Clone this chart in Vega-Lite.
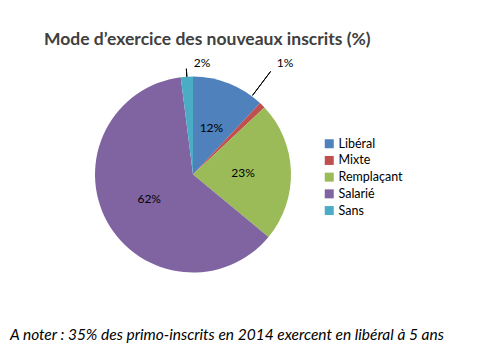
{
  "$schema": "https://vega.github.io/schema/vega-lite/v6.json",
  "padding": {"left": 0, "top": 15.5, "right": 0, "bottom": 0},
  "background": "white",
  "config": {"view": {"stroke": null}, "font": "Lato"},
  "title": {
    "text": "Mode d’exercice des nouveaux inscrits (%)",
    "anchor": "start", "frame": "group", "dx": 44, "offset": -32.5,
    "font": "Lato", "fontSize": 17.5, "fontWeight": "bold", "color": "#404040"
  },
  "datasets": {
    "d": [
      {"cat": "Libéral", "value": 12, "label": "12%"},
      {"cat": "Mixte", "value": 1, "label": "1%"},
      {"cat": "Remplaçant", "value": 23, "label": "23%"},
      {"cat": "Salarié", "value": 62, "label": "62%"},
      {"cat": "Sans", "value": 2, "label": "2%"}
    ]
  },
  "vconcat": [
    {
      "width": 386,
      "height": 248,
      "title": {
        "text": "A noter : 35% des primo-inscrits en 2014 exercent en libéral à 5 ans",
        "orient": "bottom", "anchor": "start", "frame": "group", "dx": 10, "offset": 22,
        "font": "Lato", "fontSize": 15.5, "fontStyle": "italic", "fontWeight": "normal", "color": "black"
      },
      "data": {"name": "d"},
      "encoding": {
        "theta": {"field": "value", "type": "quantitative", "stack": true},
        "order": {"field": "cat", "sort": "ascending"},
        "detail": {"field": "cat"}
      },
      "layer": [
        {
          "mark": {"type": "arc", "radius": 98},
          "encoding": {
            "color": {
              "field": "cat", "type": "nominal",
              "scale": {
                "domain": ["Libéral", "Mixte", "Remplaçant", "Salarié", "Sans"],
                "range": ["#4F81BD", "#C0504D", "#9BBB59", "#8064A2", "#4BACC6"]
              },
              "legend": {
                "orient": "none", "legendX": 323, "legendY": 87, "title": null,
                "symbolType": "square", "symbolSize": 81, "symbolStrokeWidth": 0,
                "symbolOpacity": 1, "labelFont": "Lato", "labelFontSize": 12.5,
                "labelColor": "black", "rowPadding": 3.7, "labelOffset": 3, "padding": 0
              }
            }
          }
        },
        {
          "mark": {"type": "arc", "radius": 129, "radius2": 99, "filled": false, "strokeWidth": 1,
                   "padAngle": 0.6, "thetaOffset": -0.14},
          "encoding": {
            "color": {"condition": {"test": "datum.cat === 'Mixte'", "value": "#000000"}, "value": "transparent"}
          }
        },
        {
          "mark": {"type": "arc", "radius": 106, "radius2": 98, "filled": false, "strokeWidth": 1,
                   "padAngle": 0.6},
          "encoding": {
            "color": {"condition": {"test": "datum.cat === 'Sans'", "value": "#000000"}, "value": "transparent"}
          }
        },
        {
          "mark": {"type": "text", "radius": 50, "font": "Lato", "fontSize": 12, "color": "black"},
          "encoding": {
            "text": {"condition": {"test": "datum.value >= 10", "field": "label"}, "value": ""}
          }
        },
        {
          "mark": {"type": "text", "radius": 140, "dx": -7, "dy": -13, "font": "Lato", "fontSize": 12, "color": "black"},
          "encoding": {
            "text": {"condition": {"test": "datum.cat === 'Mixte'", "field": "label"}, "value": ""}
          }
        },
        {
          "mark": {"type": "text", "radius": 112, "dx": 16, "dy": 0, "font": "Lato", "fontSize": 12, "color": "black"},
          "encoding": {
            "text": {"condition": {"test": "datum.cat === 'Sans'", "field": "label"}, "value": ""}
          }
        }
      ]
    }
  ]
}
